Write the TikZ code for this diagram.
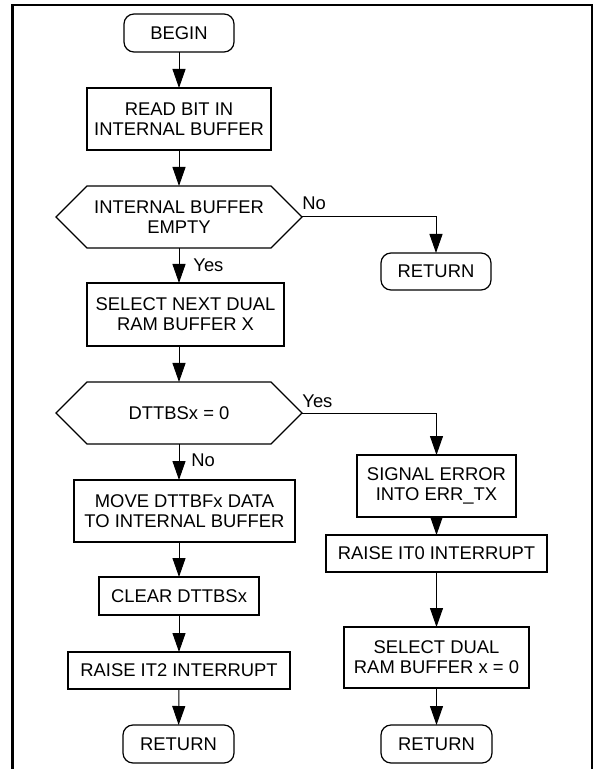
\documentclass[tikz,border=0pt]{standalone}
\usepackage{fontspec}
\setmainfont{Liberation Sans}
\usetikzlibrary{arrows.meta}
\tikzset{
  box/.style={draw,line width=0.6pt,outer sep=0pt,inner sep=0pt,align=center,font=\fontsize{9.2}{10}\selectfont},
  term/.style={box,rounded corners=5pt},
  cond/.style={box,draw=none},
  hexa/.style={line width=0.6pt,line join=miter},
  arr/.style={line width=0.5pt,-{Triangle[length=9.5pt,width=6.5pt]}},
  lbl/.style={font=\fontsize{9.2}{10}\selectfont,inner sep=0pt}
}

\begin{document}
\begin{tikzpicture}[x=0.5pt,y=-0.5pt]
\useasboundingbox (0,0) rectangle (595,769);
\draw[line width=1.1pt] (12.5,769) -- (12.5,5) -- (592,5) -- (592,769);
\foreach \n/\x/\y/\w/\h/\t in {begin/179/33/110/38/BEGIN,ret1/436/271.5/110/37/RETURN,ret2/178.5/744/111/38/RETURN,ret3/436.5/744/111/38/RETURN}{\node[term,minimum width=\w*0.5pt,minimum height=\h*0.5pt] (\n) at (\x,\y) {\t};}
\foreach \n/\x/\y/\w/\h/\t in {read/179/119/184/62/{READ BIT IN\\INTERNAL BUFFER},selnext/185.5/314.5/197/63/{SELECT NEXT DUAL\\RAM BUFFER X},move/184.5/511/221/62/{MOVE DTTBFx DATA\\TO INTERNAL BUFFER},clear/179/596/160/38/{CLEAR DTTBSx},it2/179/670.5/222/37/{RAISE IT2 INTERRUPT},signal/436.5/486/159/62/{SIGNAL ERROR\\INTO ERR\_TX},it0/436.5/553.5/221/37/{RAISE IT0 INTERRUPT},seldual/436.5/657.5/185/61/{SELECT DUAL\\RAM BUFFER x = 0}}{\node[box,minimum width=\w*0.5pt,minimum height=\h*0.5pt] (\n) at (\x,\y) {\t};}
\foreach \n/\y/\t in {empty/217/{INTERNAL BUFFER\\EMPTY},bs/413/{DTTBSx = 0}}{\node[cond,minimum width=123pt,minimum height=31pt] (\n) at (179,\y) {\t};
\draw[hexa] (\n.west) -- ([xshift=15.5pt]\n.north west) -- ([xshift=-15.5pt]\n.north east) -- (\n.east) -- ([xshift=-15.5pt]\n.south east) -- ([xshift=15.5pt]\n.south west) -- cycle;}
% left column
\draw[arr] (begin) -- (read);
\draw[arr] (read) -- (empty);
\draw[arr] (empty.south) -- (empty.south |- selnext.north);
\draw[arr] (selnext.south -| bs) -- (bs);
\draw[arr] (bs.south) -- (bs.south |- move.north);
\draw[arr] (move.south -| clear) -- (clear);
\draw[arr] (clear) -- (it2);
\draw[arr] (it2) -- (ret2);
% right column
\draw[arr] (empty.east) -| (ret1);
\draw[arr] (bs.east) -| (signal);
\draw[arr] (signal) -- (it0);
\draw[arr] (it0) -- (seldual);
\draw[arr] (seldual) -- (ret3);
\node[lbl,anchor=base west] (no1) at ([yshift=3.5pt]empty.east) {No};
\node[lbl,anchor=base west] (yes1) at ([xshift=7pt,yshift=-12pt]empty.south) {Yes};
\node[lbl,anchor=base west] (yes2) at ([yshift=3pt]bs.east) {Yes};
\node[lbl,anchor=base west] (no2) at ([xshift=6pt,yshift=-11pt]bs.south) {No};
\end{tikzpicture}
\end{document}
